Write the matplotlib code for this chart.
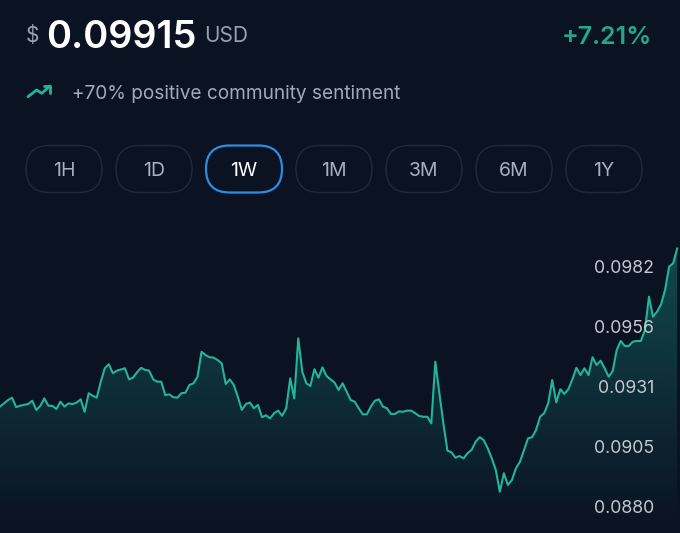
import numpy as np
import matplotlib.pyplot as plt
from matplotlib.patches import FancyBboxPatch

# 1W price history, hourly
hours = [0, 2, 3, 4, 5] + list(range(7, 30)) + list(range(31, 169))
prices = [
    0.09233, 0.09261, 0.09271, 0.09231, 0.09237, 0.09244, 0.09258, 0.09219, 0.09236, 0.09268,
    0.09237, 0.09236, 0.09223, 0.09254, 0.09233, 0.09247, 0.09244, 0.09250, 0.09264, 0.09211,
    0.09290, 0.09279, 0.09271, 0.09339, 0.09396, 0.09413, 0.09375, 0.09386, 0.09396, 0.09349,
    0.09356, 0.09379, 0.09398, 0.09389, 0.09386, 0.09349, 0.09339, 0.09339, 0.09282, 0.09285,
    0.09273, 0.09271, 0.09290, 0.09292, 0.09325, 0.09332, 0.09360, 0.09466, 0.09452, 0.09443,
    0.09441, 0.09431, 0.09417, 0.09329, 0.09349, 0.09325, 0.09275, 0.09219, 0.09244, 0.09250,
    0.09226, 0.09240, 0.09188, 0.09196, 0.09183, 0.09205, 0.09216, 0.09194, 0.09226, 0.09353,
    0.09268, 0.09523, 0.09381, 0.09332, 0.09321, 0.09392, 0.09356, 0.09400, 0.09363, 0.09349,
    0.09335, 0.09304, 0.09332, 0.09296, 0.09261, 0.09254, 0.09226, 0.09200, 0.09200, 0.09233,
    0.09258, 0.09264, 0.09233, 0.09226, 0.09202, 0.09202, 0.09213, 0.09211, 0.09216, 0.09216,
    0.09205, 0.09193, 0.09190, 0.09190, 0.09162, 0.09424, 0.09290, 0.09162, 0.09046, 0.09039,
    0.09016, 0.09023, 0.09013, 0.09035, 0.09049, 0.09084, 0.09103, 0.09091, 0.09056, 0.09013,
    0.08964, 0.08871, 0.08950, 0.08900, 0.08921, 0.08971, 0.08999, 0.09049, 0.09098, 0.09103,
    0.09134, 0.09190, 0.09205, 0.09247, 0.09346, 0.09251, 0.09307, 0.09287, 0.09307, 0.09349,
    0.09398, 0.09367, 0.09396, 0.09367, 0.09443, 0.09410, 0.09428, 0.09396, 0.09360, 0.09384,
    0.09474, 0.09512, 0.09491, 0.09491, 0.09509, 0.09512, 0.09512, 0.09559, 0.09700, 0.09615,
    0.09636, 0.09668, 0.09729, 0.09828, 0.09842, 0.09905,
]
tick_values = [0.0880, 0.09055, 0.0931, 0.09565, 0.0982]
tick_labels = ["0.0880", "0.0905", "0.0931", "0.0956", "0.0982"]
ranges = ["1H", "1D", "1W", "1M", "3M", "6M", "1Y"]
selected = "1W"

price_now = "0.09915"
change = "+7.21%"
sentiment = "+70% positive community sentiment"

bg = "#0b1222"
teal = "#22b597"
plt.rcParams["font.family"] = ["Inter", "DejaVu Sans"]

W, H = 680, 533
fig = plt.figure(figsize=(W / 100, H / 100), dpi=100, facecolor=bg)

# chart
chart_top = 230
ax = fig.add_axes([0, 0, 1, (H - chart_top) / H])
ax.set_facecolor(bg)
ax.set_xlim(0, 168.7)
ax.set_ylim(0.086959, 0.099836)
ax.axis("off")

line, = ax.plot(hours, prices, color=teal, lw=1.5, zorder=3,
                solid_joinstyle="round")
poly = ax.fill_between(hours, prices, 0.080, color="none", lw=0)
grad = np.zeros((256, 1, 4))
grad[:, 0, :3] = np.array([26, 158, 143]) / 255
grad[:, 0, 3] = np.linspace(0.42, 0.0, 256)
img = ax.imshow(grad, aspect="auto", extent=[0, 168.7, 0.086959, 0.099836],
                origin="upper", zorder=2)
img.set_clip_path(poly.get_paths()[0], transform=ax.transData)

for v, lab in zip(tick_values, tick_labels):
    ax.text(654 / W, v, lab, transform=ax.get_yaxis_transform(), ha="right",
            va="center", color="#c3c8d0", fontsize=12.8, zorder=5)

# header overlay in pixel coords
ui = fig.add_axes([0, 0, 1, 1])
ui.set_xlim(0, W)
ui.set_ylim(H, 0)
ui.axis("off")
ui.patch.set_alpha(0)

ui.text(26, 42, "$", color="#9aa1ae", fontsize=15, va="baseline", ha="left")
ui.text(46, 48, price_now, color="white", fontsize=27.3, fontweight="semibold",
        va="baseline", ha="left")
ui.text(204, 42, "USD", color="#9aa1ae", fontsize=15, va="baseline", ha="left")
ui.text(652, 44, change, color="#21a98a", fontsize=18, fontweight="semibold",
        va="baseline", ha="right")

ui.plot([28, 36.7, 41.7, 50], [96.7, 90, 93.3, 86], color=teal, lw=2,
        solid_capstyle="round", solid_joinstyle="round")
ui.plot([43.5, 50, 50], [86, 86, 92.5], color=teal, lw=2,
        solid_capstyle="round", solid_joinstyle="round")
ui.text(72, 99, sentiment, color="#a3aab7", fontsize=13.7, va="baseline", ha="left")

for i, r in enumerate(ranges):
    cx = 64 + 90 * i
    w, h = 76, 47
    sel = r == selected
    box = FancyBboxPatch((cx - w / 2, 169 - h / 2), w, h,
                         boxstyle="round,pad=0,rounding_size=23.5",
                         fc=bg, ec="#2b8de3" if sel else "#20283a",
                         lw=1.6 if sel else 1.1)
    ui.add_patch(box)
    ui.text(cx, 176.5, r, color="white" if sel else "#a9b0bd", fontsize=14,
            ha="center", va="baseline")

fig.savefig("out.png", dpi=100, facecolor=bg)
